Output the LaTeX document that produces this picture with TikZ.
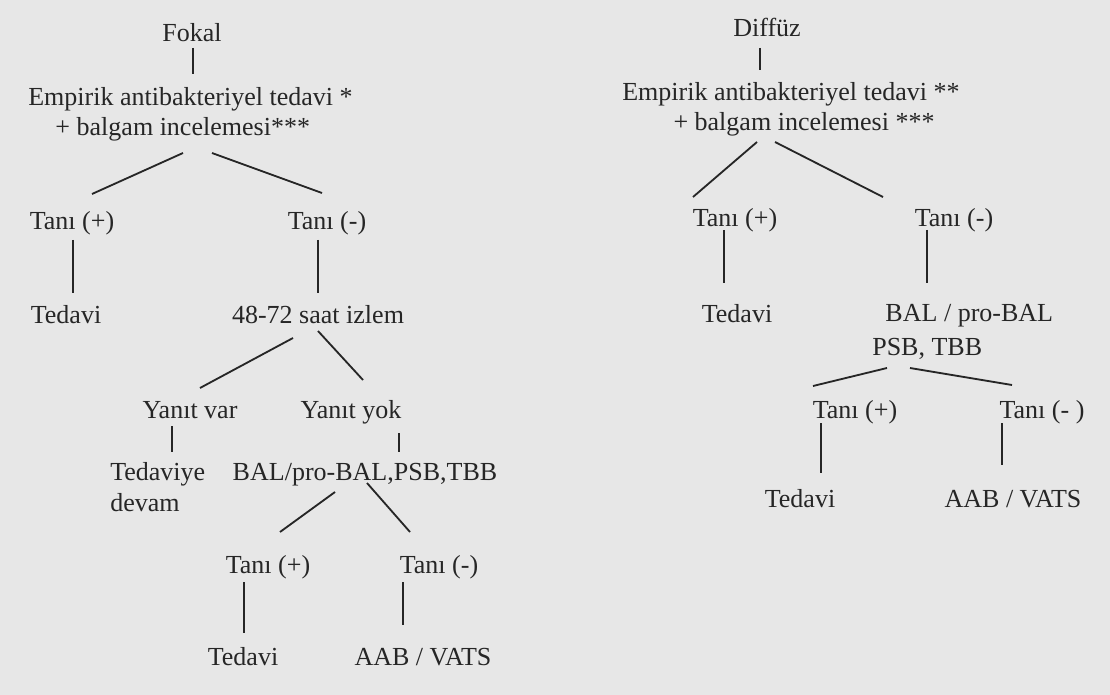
\documentclass[tikz,border=0pt]{standalone}
\usepackage{fontspec}
\setmainfont{Liberation Serif}
\usepackage{tikz}
\usetikzlibrary{calc,positioning}
\definecolor{paperGray}{RGB}{231,231,231}
\definecolor{inkGray}{RGB}{38,38,38}

\begin{document}
\begin{tikzpicture}[
  x=0.025cm, y=-0.025cm,
  treeText/.style={inner sep=0pt, anchor=base, text=inkGray,
                   font=\fontsize{18.5}{21.3}\selectfont},
  treeBlock/.style={treeText, align=left, anchor=north west},
  treeLine/.style={draw=inkGray, line width=1.3pt}
]
  \fill[paperGray] (0,0) rectangle (1110,695);
  \useasboundingbox (0,0) rectangle (1110,695);

  % Fokal
  \node[treeText] (fokal) at (192,42) {Fokal};
  \node[treeBlock] (emp1) at (28,87)
    {Empirik antibakteriyel tedavi *\\\hspace*{0.68cm}+ balgam incelemesi***};
  \node[treeText] (tp1) at (72,230) {Tanı (+)};
  \node[treeText] (tn1) at (327,230) {Tanı (-)};
  \node[treeText] (ted1) at (66,323) {Tedavi};
  \node[treeText] (izlem) at (318,323) {48-72 saat izlem};
  \node[treeText] (yvar) at (190,418) {Yanıt var};
  \node[treeText] (yyok) at (351,418) {Yanıt yok};
  \node[treeBlock] (devam) at (110,462) {Tedaviye\\[1pt]devam};
  \node[treeText] (bal1) at (365,480) {BAL/pro-BAL,PSB,TBB};
  \node[treeText] (tp2) at (268,573) {Tanı (+)};
  \node[treeText] (tn2) at (439,573) {Tanı (-)};
  \node[treeText] (ted2) at (243,665) {Tedavi};
  \node[treeText] (aab1) at (423,665) {AAB / VATS};

  \draw[treeLine] ($(fokal.base)+(1,6)$) -- ($(emp1.north west)+(165,-13)$);
  \draw[treeLine] ($(emp1.north west)+(155,66)$) -- ($(tp1.base)+(20,-36)$);
  \draw[treeLine] ($(emp1.north west)+(184,66)$) -- ($(tn1.base)+(-5,-37)$);
  \draw[treeLine] ($(tp1.base)+(1,10)$) -- ($(ted1.base)+(7,-30)$);
  \draw[treeLine] ($(tn1.base)+(-9,10)$) -- ($(izlem.base)+(0,-30)$);
  \draw[treeLine] ($(izlem.base)+(-25,15)$) -- ($(yvar.base)+(10,-30)$);
  \draw[treeLine] ($(izlem.base)+(0,8)$) -- ($(yyok.base)+(12,-38)$);
  \draw[treeLine] ($(yvar.base)+(-18,8)$) -- ($(devam.north west)+(62,-10)$);
  \draw[treeLine] ($(yyok.base)+(48,15)$) -- ($(bal1.base)+(34,-28)$);
  \draw[treeLine] ($(bal1.base)+(-30,12)$) -- ($(tp2.base)+(12,-41)$);
  \draw[treeLine] ($(bal1.base)+(2,3)$) -- ($(tn2.base)+(-29,-41)$);
  \draw[treeLine] ($(tp2.base)+(-24,9)$) -- ($(ted2.base)+(1,-32)$);
  \draw[treeLine] ($(tn2.base)+(-36,9)$) -- ($(aab1.base)+(-20,-40)$);

  % Diffuz
  \node[treeText] (diffuz) at (767,37) {Diffüz};
  \node[treeBlock] (emp2) at (622,82)
    {Empirik antibakteriyel tedavi **\\\hspace*{1.28cm}+ balgam incelemesi ***};
  \node[treeText] (tp3) at (735,227) {Tanı (+)};
  \node[treeText] (tn3) at (954,227) {Tanı (-)};
  \node[treeText] (ted3) at (737,322) {Tedavi};
  \node[treeBlock] (bal2) at (872,304) {\hspace*{0.33cm}BAL / pro-BAL\\[3pt]PSB, TBB};
  \node[treeText] (tp4) at (855,418) {Tanı (+)};
  \node[treeText] (tn4) at (1042,418) {Tanı (- )};
  \node[treeText] (ted4) at (800,507) {Tedavi};
  \node[treeText] (aab2) at (1013,507) {AAB / VATS};

  \draw[treeLine] ($(diffuz.base)+(-7,11)$) -- ($(emp2.north west)+(138,-12)$);
  \draw[treeLine] ($(emp2.north west)+(135,60)$) -- ($(tp3.base)+(-42,-30)$);
  \draw[treeLine] ($(emp2.north west)+(153,60)$) -- ($(tn3.base)+(-71,-30)$);
  \draw[treeLine] ($(tp3.base)+(-11,3)$) -- ($(ted3.base)+(-13,-39)$);
  \draw[treeLine] ($(tn3.base)+(-27,3)$) -- ($(bal2.north west)+(55,-21)$);
  \draw[treeLine] ($(bal2.north west)+(15,64)$) -- ($(tp4.base)+(-42,-32)$);
  \draw[treeLine] ($(bal2.north west)+(38,64)$) -- ($(tn4.base)+(-30,-33)$);
  \draw[treeLine] ($(tp4.base)+(-34,5)$) -- ($(ted4.base)+(21,-34)$);
  \draw[treeLine] ($(tn4.base)+(-40,5)$) -- ($(aab2.base)+(-11,-42)$);
\end{tikzpicture}
\end{document}
